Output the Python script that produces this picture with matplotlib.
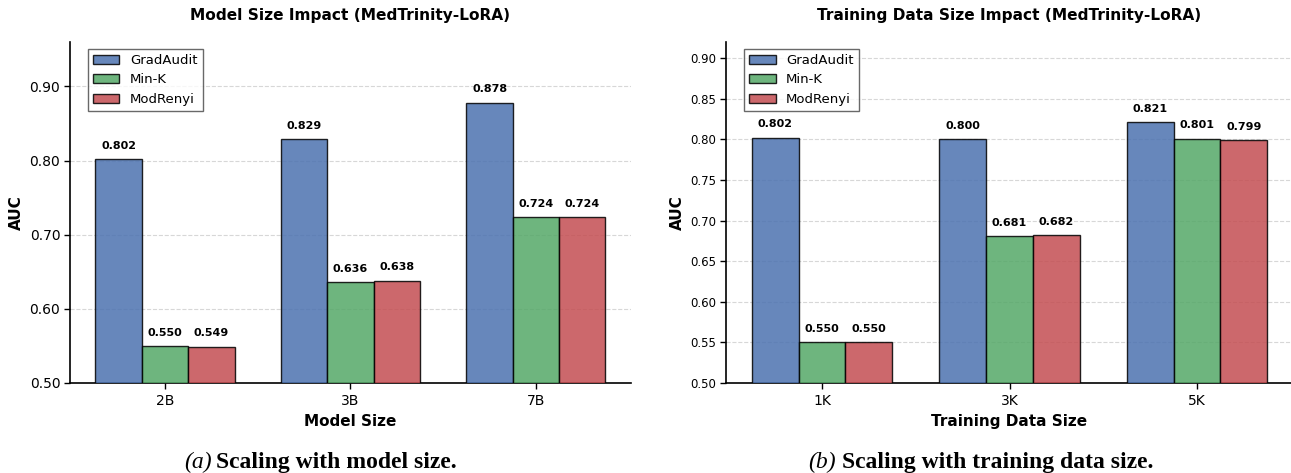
import matplotlib.pyplot as plt
import numpy as np

methods = ["GradAudit", "Min-K", "ModRenyi"]
colors = ["#4C72B0", "#55A868", "#C44E52"]

model_sizes = ["2B", "3B", "7B"]
model_auc = {
    "GradAudit": [0.802, 0.829, 0.878],
    "Min-K": [0.550, 0.636, 0.724],
    "ModRenyi": [0.549, 0.638, 0.724],
}

data_sizes = ["1K", "3K", "5K"]
data_auc = {
    "GradAudit": [0.802, 0.800, 0.821],
    "Min-K": [0.550, 0.681, 0.801],
    "ModRenyi": [0.550, 0.682, 0.799],
}


def draw_panel(ax, cats, values, title, xlabel, ylim, yticks, ytick_size):
    x = np.arange(len(cats))
    width = 0.25
    for i, m in enumerate(methods):
        bars = ax.bar(x + (i - 1) * width, values[m], width, label=m,
                      color=colors[i], alpha=0.85, edgecolor="black",
                      linewidth=1.0, zorder=3)
        for b, v in zip(bars, values[m]):
            ax.annotate(f"{v:.3f}", (b.get_x() + b.get_width() / 2, v),
                        xytext=(0, 6), textcoords="offset points",
                        ha="center", va="bottom", fontsize=8,
                        fontweight="bold")
    ax.set_xticks(x)
    ax.set_xticklabels(cats, fontsize=10)
    ax.set_ylim(*ylim)
    ax.set_yticks(yticks)
    ax.set_yticklabels([f"{t:.2f}" for t in yticks], fontsize=ytick_size)
    ax.tick_params(length=4.5, width=1.0)
    ax.tick_params(axis="y", pad=2.5)
    ax.set_xlabel(xlabel, fontsize=11, fontweight="bold")
    ax.set_ylabel("AUC", fontsize=11, fontweight="bold")
    ax.set_title(title, fontsize=11.1, fontweight="bold", pad=16)
    ax.grid(axis="y", linestyle="--", alpha=0.5, zorder=0)
    ax.spines["top"].set_visible(False)
    ax.spines["right"].set_visible(False)
    ax.spines["left"].set_linewidth(1.2)
    ax.spines["bottom"].set_linewidth(1.2)
    leg = ax.legend(loc="upper left", fontsize=9.5, fancybox=False,
                    edgecolor="#444444", bbox_to_anchor=(0.02, 1.0))
    leg.get_frame().set_linewidth(1.0)


fig = plt.figure(figsize=(12.91, 4.73), dpi=100)
ax1 = fig.add_axes([70 / 1291, 0.1903, 561 / 1291, 0.7209])
ax2 = fig.add_axes([726 / 1291, 0.1903, 567 / 1291, 0.7209])

draw_panel(ax1, model_sizes, model_auc, "Model Size Impact (MedTrinity-LoRA)",
           "Model Size", (0.5, 0.96), [0.5, 0.6, 0.7, 0.8, 0.9], 10)
draw_panel(ax2, data_sizes, data_auc, "Training Data Size Impact (MedTrinity-LoRA)",
           "Training Data Size", (0.5, 0.92),
           [0.5, 0.55, 0.6, 0.65, 0.7, 0.75, 0.8, 0.85, 0.9], 8.5)

# captions below each panel
cap_y = 0.022
fig.text(212 / 1291, cap_y, "(a)", family="Liberation Serif", style="italic",
         fontsize=17, ha="right", va="center")
fig.text(216 / 1291, cap_y, "Scaling with model size.", family="Liberation Serif",
         fontweight="bold", fontsize=17, ha="left", va="center")
fig.text(836 / 1291, cap_y, "(b)", family="Liberation Serif", style="italic",
         fontsize=17, ha="right", va="center")
fig.text(842 / 1291, cap_y, "Scaling with training data size.", family="Liberation Serif",
         fontweight="bold", fontsize=17, ha="left", va="center")

fig.savefig("out.png", dpi=100)
